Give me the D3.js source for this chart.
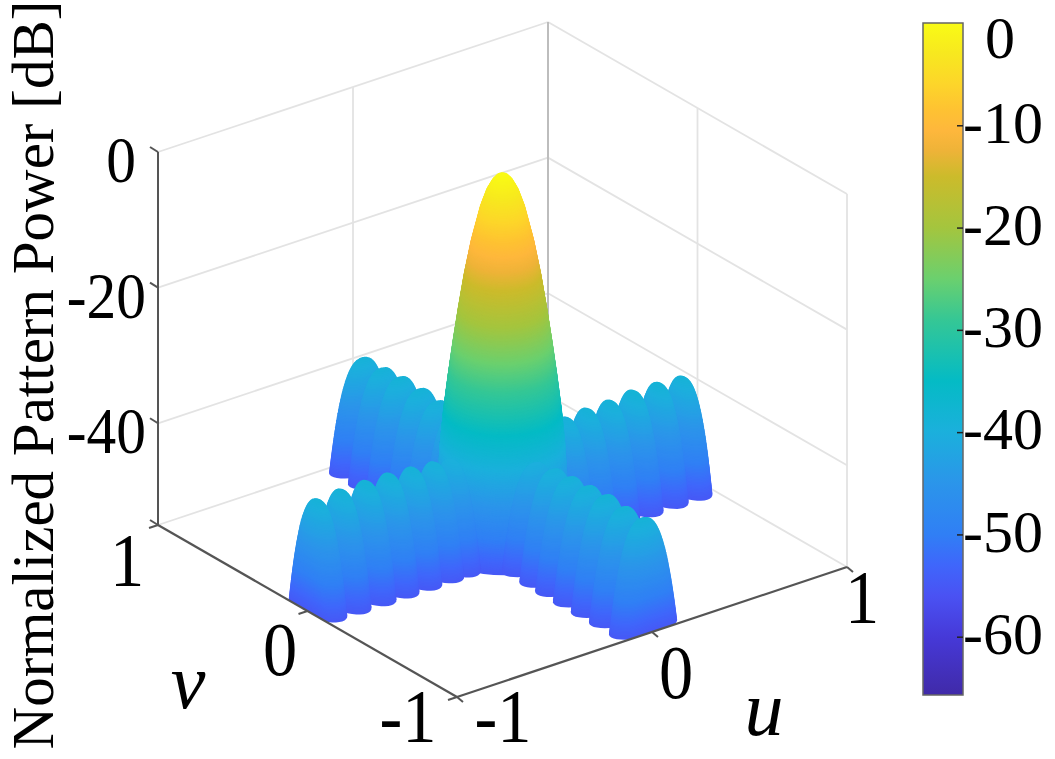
<!DOCTYPE html>
<html>
<head>
<meta charset="utf-8">
<script src="https://cdn.jsdelivr.net/npm/d3@7"></script>
<style>
    body { margin: 0; background: #fff; }
    text { font-family: "Liberation Serif", serif; fill: #000; }
</style>
</head>
<body>
<div id="chart"></div>
<script>
// Sidelobe centres and peaks, one pair of arrays per arm
const frontLeftU = [-0.946, -0.823, -0.695, -0.577, -0.459, -0.346, -0.259];
const frontLeftPeak = [-39.1, -38.85, -38.8, -38.85, -39.1, -39.4, -39.8];
const frontRightV = [-0.94, -0.806, -0.686, -0.565, -0.445, -0.338, -0.217];
const frontRightPeak = [-38.95, -39.03, -38.8, -39, -39.2, -39.4, -40];
const backLeftV = [0.933, 0.806, 0.686, 0.552, 0.438, 0.318];
const backLeftPeak = [-39.1, -39, -38.8, -38.85, -39.2, -39];
const backRightU = [0.926, 0.803, 0.674, 0.556, 0.438, 0.331];
const backRightPeak = [-38.95, -38.7, -38.6, -38.95, -39, -39.3];

// Main lobe: radius in u-v at each power level
const mainLevels = [0, -0.25, -1, -2.5, -5, -10, -15, -20, -25, -30, -35, -40, -45, -50, -55];
const mainRadius = [0, 0.022, 0.042, 0.066, 0.092, 0.129, 0.158, 0.182, 0.204, 0.224, 0.242, 0.256, 0.265, 0.27, 0.272];

// Colour bar stops
const colourLevels = [0, -3, -6, -8.5, -10.5, -12.5, -15, -20, -25, -29, -35, -40, -45, -50, -53, -56, -60, -65.7];
const colourValues = ["#f9fb15", "#f7e81f", "#fdd52a", "#fec232", "#feb73c", "#eeb338", "#ccbb2b", "#a4c53e", "#6bd06e", "#35c795",
    "#04bbc5", "#1bb0dc", "#2b95ea", "#307ff5", "#3f66fb", "#4a52f3", "#4639d8", "#402aa8"];

const zTicks = [0, -20, -40];
const uvTicks = [-1, 0, 1];
const barTicks = [0, -10, -20, -30, -40, -50, -60];

const width = 1055, height = 759;
const zFloor = -55;
const barBottom = -65.7;
const sideWidth = 0.085;  // half width of a sidelobe along its arm
const sideDepthScale = 0.0406;  // across-arm radius grows with sqrt of depth
const sideShape = 0.38;  // blunter than a paraboloid, the arches in the picture are round

const svg = d3.select("#chart").append("svg")
    .attr("width", width)
    .attr("height", height)
    .style("display", "block");

// Oblique projection of the box
const xOfU = d3.scaleLinear().domain([-1, 1]).range([-195, 195]);
const yOfU = d3.scaleLinear().domain([-1, 1]).range([65, -65]);
const xOfV = d3.scaleLinear().domain([-1, 1]).range([149.5, -149.5]);
const yOfV = d3.scaleLinear().domain([-1, 1]).range([86, -86]);
const yOfZ = d3.scaleLinear().domain([zFloor, 0]).range([0, -373]);
const centreX = 502.5, centreY = 546;

function project(u, v, z) {
    return [centreX + xOfU(u) + xOfV(v), centreY + yOfU(u) + yOfV(v) + yOfZ(z)];
}

const colour = d3.scaleLinear().domain(colourLevels).range(colourValues).clamp(true);
const mainRadiusAt = d3.scaleLinear().domain(mainLevels).range(mainRadius);

function seg(g, a, b, stroke, w) {
    g.append("line")
        .attr("x1", a[0]).attr("y1", a[1])
        .attr("x2", b[0]).attr("y2", b[1])
        .attr("stroke", stroke)
        .attr("stroke-width", w);
}

// Back walls
const grid = svg.append("g");
const gridColour = "#e3e3e3";
[zFloor, ...zTicks].forEach(z => {
    seg(grid, project(-1, 1, z), project(1, 1, z), gridColour, 1.8);
    seg(grid, project(1, 1, z), project(1, -1, z), gridColour, 1.8);
});
seg(grid, project(0, 1, zFloor), project(0, 1, 0), gridColour, 1.8);
seg(grid, project(1, 0, zFloor), project(1, 0, 0), gridColour, 1.8);
seg(grid, project(1, -1, zFloor), project(1, -1, 0), gridColour, 1.8);
seg(grid, project(1, 1, zFloor), project(1, 1, 0), "#bdbdbd", 2);

// Surface: each lobe is a stack of constant-power slices, far lobes first
const lobes = [];
frontLeftU.forEach((u, i) => lobes.push({ u, v: 0, peak: frontLeftPeak[i], alongU: true }));
frontRightV.forEach((v, i) => lobes.push({ u: 0, v, peak: frontRightPeak[i], alongU: false }));
backLeftV.forEach((v, i) => lobes.push({ u: 0, v, peak: backLeftPeak[i], alongU: false }));
backRightU.forEach((u, i) => lobes.push({ u, v: 0, peak: backRightPeak[i], alongU: true }));
lobes.push({ u: 0, v: 0, peak: 0, main: true });
lobes.sort((a, b) => (b.u + b.v) - (a.u + a.v));

const slicePath = d3.line().curve(d3.curveLinearClosed);
const angles = d3.range(0, 2 * Math.PI, Math.PI / 20);
const clampUV = d3.scaleLinear().domain([-1, 1]).range([-1, 1]).clamp(true);
const surface = svg.append("g");

lobes.forEach(lobe => {
    const step = lobe.main ? 0.1 : 0.2;
    const depth = lobe.peak - zFloor;
    const acrossMax = sideDepthScale * Math.sqrt(depth);
    d3.range(zFloor, lobe.peak, step).forEach(z => {
        let ru, rv;
        if (lobe.main) {
            ru = rv = mainRadiusAt(z);
        } else {
            const t = Math.pow((lobe.peak - z) / depth, sideShape);
            ru = (lobe.alongU ? sideWidth : acrossMax) * t;
            rv = (lobe.alongU ? acrossMax : sideWidth) * t;
        }
        const pts = angles.map(a => project(
            clampUV(lobe.u + ru * Math.cos(a)),
            clampUV(lobe.v + rv * Math.sin(a)),
            z));
        surface.append("path")
            .attr("d", slicePath(pts))
            .attr("fill", colour(z));
    });
});

// Axes lines and ticks
const axes = svg.append("g");
const axisColour = "#555";
seg(axes, project(-1, -1, zFloor), project(1, -1, zFloor), axisColour, 2.2);
seg(axes, project(-1, -1, zFloor), project(-1, 1, zFloor), axisColour, 2.2);
seg(axes, project(-1, 1, zFloor), project(-1, 1, 0), axisColour, 2);

zTicks.concat(zFloor).forEach(z => {
    const p = project(-1, 1, z);
    seg(axes, p, [p[0] - 8, p[1] - 5], axisColour, 2);
});
uvTicks.forEach(t => {
    const pu = project(t, -1, zFloor);
    seg(axes, pu, [pu[0] + 6, pu[1] + 5], axisColour, 2);
    const pv = project(-1, t, zFloor);
    seg(axes, pv, [pv[0] - 9, pv[1] + 3], axisColour, 2);
});

// Tick labels
function stretchedLabel(x, y, s, size, anchor) {
    svg.append("text")
        .attr("transform", `translate(${x},${y}) scale(0.9,1)`)
        .attr("text-anchor", anchor)
        .attr("font-size", size)
        .text(s);
}
zTicks.forEach(z => {
    // the 0 label stands further left than the right edge of the others
    stretchedLabel(z === 0 ? 136 : 146, project(-1, 1, z)[1] + 30, z, 66, "end");
});
stretchedLabel(503, 742, -1, 76, "middle");
stretchedLabel(676, 698, 0, 76, "middle");
stretchedLabel(862, 623, 1, 76, "middle");
stretchedLabel(408, 742, -1, 76, "middle");
stretchedLabel(280, 675, 0, 76, "middle");
stretchedLabel(127, 586, 1, 76, "middle");

svg.append("text").attr("x", 764).attr("y", 735).attr("text-anchor", "middle")
    .attr("font-size", 78).attr("font-style", "italic").text("u");
svg.append("text").attr("x", 188).attr("y", 708).attr("text-anchor", "middle")
    .attr("font-size", 78).attr("font-style", "italic").text("v");

svg.append("text")
    .attr("transform", "translate(53,375) rotate(-90)")
    .attr("text-anchor", "middle")
    .attr("font-size", 59)
    .text("Normalized Pattern Power [dB]");

// Colour bar
const barX = 923, barW = 40;
const barY = d3.scaleLinear().domain([0, barBottom]).range([23, 695]);
const defs = svg.append("defs");
const grad = defs.append("linearGradient")
    .attr("id", "barGradient")
    .attr("x1", 0).attr("y1", 0).attr("x2", 0).attr("y2", 1);
colourLevels.forEach((lv, i) => {
    grad.append("stop")
        .attr("offset", lv / barBottom)
        .attr("stop-color", colourValues[i]);
});
svg.append("rect")
    .attr("x", barX).attr("y", barY(0))
    .attr("width", barW).attr("height", barY(barBottom) - barY(0))
    .attr("fill", "url(#barGradient)")
    .attr("stroke", "#666")
    .attr("stroke-width", 1.5);

const barAxis = svg.append("g")
    .attr("transform", `translate(${barX + barW},0)`)
    .call(d3.axisRight(barY).tickValues(barTicks.slice(1)).tickSize(-6).tickPadding(0).tickFormat(d => d));
barAxis.select(".domain").remove();
barAxis.selectAll("line").attr("stroke", "#222").attr("stroke-width", 1.5);
barAxis.selectAll("text")
    .attr("x", 0)
    .attr("y", -3)
    .attr("dy", "0.33em")
    .attr("text-anchor", "start")
    .attr("font-family", "Liberation Serif")
    .attr("font-size", 60);
// the 0 label sits below the end of the bar
svg.append("text")
    .attr("x", barX + barW + 22)
    .attr("y", barY(0) + 35)
    .attr("font-size", 60)
    .text(barTicks[0]);
</script>
</body>
</html>
